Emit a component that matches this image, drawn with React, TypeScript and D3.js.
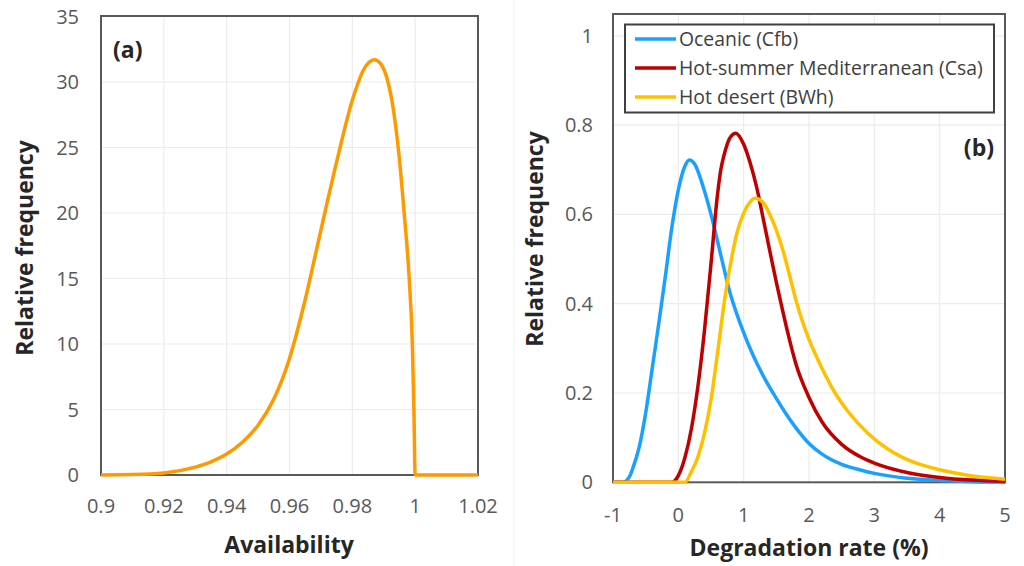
import React, { useEffect, useRef } from 'react';
import * as d3 from 'd3';

// (a) availability distribution
const availability = [0.9, 0.91, 0.92, 0.93, 0.935, 0.94, 0.945, 0.95, 0.955, 0.96, 0.965, 0.97, 0.975, 0.98, 0.9835, 0.987, 0.989, 0.991, 0.993, 0.9946, 0.9965, 0.9981, 0.9991, 0.9996, 1.0, 1.02];
const availabilityFreq = [0, 0.03, 0.15, 0.6, 1.0, 1.6, 2.5, 3.8, 5.8, 8.9, 13.4, 18.7, 23.9, 28.6, 30.9, 31.7, 31.4, 30.3, 28.0, 25, 20, 15, 10, 5, 0, 0];
const availabilityTicks = [0.9, 0.92, 0.94, 0.96, 0.98, 1, 1.02];
const freqTicksA = [0, 5, 10, 15, 20, 25, 30, 35];

// (b) degradation rate distributions
const oceanicRate = [-1, -0.85, -0.75, -0.7, -0.6, -0.5, -0.4, -0.3, -0.2, -0.1, 0, 0.1, 0.17, 0.25, 0.38, 0.5, 0.6, 0.7, 0.8, 0.9, 1.0, 1.1, 1.2, 1.35, 1.5, 1.65, 1.8, 2.0, 2.2, 2.5, 2.8, 3.0, 3.5, 4.0, 4.5, 5];
const oceanicFreq = [0, 0, 0.012, 0.03, 0.078, 0.155, 0.255, 0.355, 0.46, 0.57, 0.655, 0.708, 0.722, 0.713, 0.662, 0.6, 0.54, 0.478, 0.42, 0.375, 0.335, 0.299, 0.267, 0.225, 0.188, 0.153, 0.122, 0.087, 0.063, 0.04, 0.027, 0.02, 0.009, 0.004, 0.0015, 0.0005];
const mediterraneanRate = [-1, -0.1, 0, 0.1, 0.2, 0.3, 0.4, 0.5, 0.6, 0.65, 0.7, 0.8, 0.88, 1.0, 1.1, 1.2, 1.3, 1.4, 1.5, 1.6, 1.7, 1.8, 2.0, 2.2, 2.5, 2.8, 3.0, 3.5, 4.0, 4.5, 5];
const mediterraneanFreq = [0, 0, 0.015, 0.055, 0.12, 0.215, 0.34, 0.49, 0.645, 0.7, 0.733, 0.774, 0.782, 0.757, 0.715, 0.66, 0.59, 0.518, 0.448, 0.382, 0.32, 0.265, 0.19, 0.135, 0.085, 0.056, 0.043, 0.022, 0.011, 0.005, 0.002];
const desertRate = [-1, 0.1, 0.2, 0.3, 0.4, 0.5, 0.6, 0.7, 0.8, 0.9, 1.0, 1.1, 1.17, 1.3, 1.4, 1.5, 1.6, 1.7, 1.8, 1.9, 2.0, 2.2, 2.4, 2.6, 2.9, 3.2, 3.4, 3.7, 4.0, 4.5, 5];
const desertFreq = [0, 0, 0.024, 0.057, 0.11, 0.185, 0.29, 0.4, 0.49, 0.56, 0.603, 0.628, 0.636, 0.626, 0.6, 0.565, 0.52, 0.465, 0.408, 0.36, 0.32, 0.255, 0.2, 0.158, 0.11, 0.075, 0.058, 0.04, 0.028, 0.014, 0.007];
const rateTicks = [-1, 0, 1, 2, 3, 4, 5];
const freqTicksB = [0, 0.2, 0.4, 0.6, 0.8, 1];

const climates = ['Oceanic (Cfb)', 'Hot-summer Mediterranean (Csa)', 'Hot desert (BWh)'];
const climateColors = ['#1aa0ff', '#c00000', '#ffc000'];

const FONT = '"Open Sans", "Noto Sans", sans-serif';

const App: React.FC = () => {
    const svgRef = useRef<SVGSVGElement>(null);

    useEffect(() => {
        if (!svgRef.current) return;
        const svg = d3.select(svgRef.current);
        svg.selectAll('*').remove();

        svg.append('rect').attr('width', 1024).attr('height', 566).attr('fill', '#fff');
        // faint divider between the two charts
        svg.append('line')
            .attr('x1', 514).attr('x2', 514).attr('y1', 0).attr('y2', 566)
            .attr('stroke', '#f0f0f0').attr('stroke-width', 1);

        const drawFrame = (
            x: d3.ScaleLinear<number, number>,
            y: d3.ScaleLinear<number, number>,
            xTicks: number[],
            yTicks: number[],
            top: number,
            xLabelY: number,
            yLabelX: number,
        ) => {
            const [x0, x1] = x.range();
            const y0 = y(0);
            const g = svg.append('g');

            // gridlines
            g.selectAll('.vgrid')
                .data(xTicks.slice(1, -1))
                .enter().append('line')
                .attr('x1', d => x(d)).attr('x2', d => x(d))
                .attr('y1', top).attr('y2', y0)
                .attr('stroke', '#ececec').attr('stroke-width', 1.2);
            g.selectAll('.hgrid')
                .data(yTicks.slice(1))
                .enter().append('line')
                .attr('x1', x0).attr('x2', x1)
                .attr('y1', d => y(d)).attr('y2', d => y(d))
                .attr('stroke', '#ececec').attr('stroke-width', 1.2);

            // box
            g.append('rect')
                .attr('x', x0).attr('y', top)
                .attr('width', x1 - x0).attr('height', y0 - top)
                .attr('fill', 'none').attr('stroke', '#595959').attr('stroke-width', 2);

            // tick labels
            g.selectAll('.xt')
                .data(xTicks)
                .enter().append('text')
                .attr('x', d => x(d)).attr('y', xLabelY)
                .attr('text-anchor', 'middle')
                .style('font-family', FONT).style('font-size', '20px').style('fill', '#595959')
                .text(d => String(d));
            g.selectAll('.yt')
                .data(yTicks)
                .enter().append('text')
                .attr('x', yLabelX).attr('y', d => y(d) + 7)
                .attr('text-anchor', 'end')
                .style('font-family', FONT).style('font-size', '20px').style('fill', '#595959')
                .text(d => String(d));
        };

        const line = (x: d3.ScaleLinear<number, number>, y: d3.ScaleLinear<number, number>) =>
            d3.line<[number, number]>()
                .x(d => x(d[0]))
                .y(d => y(d[1]))
                .curve(d3.curveMonotoneX);

        const axisTitle = (txt: string, x: number, y: number, rotate = false) => {
            svg.append('text')
                .attr('transform', rotate ? `translate(${x},${y}) rotate(-90)` : `translate(${x},${y})`)
                .attr('text-anchor', 'middle')
                .style('font-family', FONT).style('font-size', '23px').style('font-weight', 'bold')
                .style('fill', '#262626')
                .text(txt);
        };

        // ---- panel (a)
        const xA = d3.scaleLinear().domain([0.9, 1.02]).range([101, 478]);
        const yA = d3.scaleLinear().domain([0, 35]).range([475, 16.5]);
        drawFrame(xA, yA, availabilityTicks, freqTicksA, 16, 513, 79);

        svg.append('path')
            .datum(availability.map((v, i) => [v, availabilityFreq[i]] as [number, number]))
            .attr('d', line(xA, yA))
            .attr('fill', 'none').attr('stroke', '#ff9900').attr('stroke-width', 3.5)
            .attr('stroke-linejoin', 'round');

        svg.append('text')
            .attr('x', 113).attr('y', 58)
            .style('font-family', FONT).style('font-size', '23px').style('font-weight', 'bold')
            .style('fill', '#262626')
            .text('(a)');

        axisTitle('Availability', 289, 553);
        axisTitle('Relative frequency', 33, 248, true);

        // ---- panel (b)
        const xB = d3.scaleLinear().domain([-1, 5]).range([613, 1005]);
        const yB = d3.scaleLinear().domain([0, 1.05]).range([482.3, 13.5]);
        drawFrame(xB, yB, rateTicks, freqTicksB, 14, 522, 593);

        const seriesB: [number[], number[]][] = [
            [oceanicRate, oceanicFreq],
            [mediterraneanRate, mediterraneanFreq],
            [desertRate, desertFreq],
        ];
        seriesB.forEach(([xs, ys], k) => {
            svg.append('path')
                .datum(xs.map((v, i) => [v, ys[i]] as [number, number]))
                .attr('d', line(xB, yB))
                .attr('fill', 'none').attr('stroke', climateColors[k]).attr('stroke-width', 3.5)
                .attr('stroke-linejoin', 'round');
        });

        // legend
        const lg = svg.append('g');
        lg.append('rect')
            .attr('x', 625).attr('y', 24.5).attr('width', 369).attr('height', 88)
            .attr('fill', '#fff').attr('stroke', '#404040').attr('stroke-width', 2);
        climates.forEach((name, k) => {
            const cy = 39 + k * 29;
            lg.append('line')
                .attr('x1', 635).attr('x2', 676).attr('y1', cy).attr('y2', cy)
                .attr('stroke', climateColors[k]).attr('stroke-width', 3.5);
            lg.append('text')
                .attr('x', 679).attr('y', cy + 7)
                .style('font-family', FONT).style('font-size', '19.4px').style('fill', '#404040')
                .text(name);
        });

        svg.append('text')
            .attr('x', 994).attr('y', 156)
            .attr('text-anchor', 'end')
            .style('font-family', FONT).style('font-size', '23px').style('font-weight', 'bold')
            .style('fill', '#262626')
            .text('(b)');

        axisTitle('Degradation rate (%)', 809, 556);
        axisTitle('Relative frequency', 543, 239, true);
    }, []);

    return (
        <svg
            ref={svgRef}
            width={1024}
            height={566}
            style={{ position: 'absolute', left: 0, top: 0 }}
        />
    );
};

export default App;
